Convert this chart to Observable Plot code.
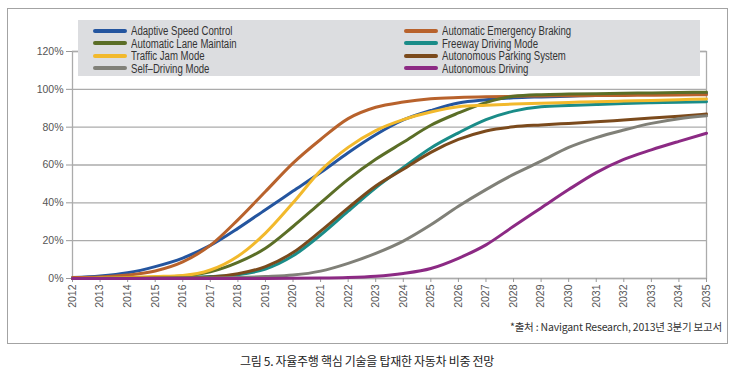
<!DOCTYPE html>
<html>
<head>
<meta charset="utf-8">
<script src="https://cdn.jsdelivr.net/npm/d3@7"></script>
<script src="https://cdn.jsdelivr.net/npm/@observablehq/plot@0.6"></script>
<style>
  html, body { margin: 0; padding: 0; background: #fff; }
  body { width: 734px; height: 374px; position: relative; overflow: hidden; }
  #box { position: absolute; left: 7px; top: 8px; width: 719px; height: 334px; border: 1px solid #a3a3a3; }
  #chart { position: absolute; left: 0; top: 0; }
  #legend { position: absolute; left: 78px; top: 20px; width: 622px; height: 56px; background: #dcdde0; }
  .item { position: absolute; height: 12px; line-height: 12px; font-family: "Liberation Sans", Arial, sans-serif; font-size: 12px; color: #333; white-space: nowrap; }
  .sw { display: inline-block; width: 34px; height: 4px; border-radius: 2px; vertical-align: middle; margin-right: 4px; position: relative; top: -1px; }
  .lbl { display: inline-block; transform: scaleX(0.8); transform-origin: 0 50%; }
  #caption { position: absolute; right: 12px; top: 319px; font-family: "Noto Sans CJK KR", sans-serif; font-size: 10.5px; color: #333; white-space: nowrap; letter-spacing: -0.2px; }
  #title { position: absolute; left: 0; width: 734px; top: 352px; text-align: center; font-family: "Noto Sans CJK KR", sans-serif; font-size: 12px; color: #222; letter-spacing: -0.3px; }
</style>
</head>
<body>
<div id="box"></div>
<div id="chart"></div>
<div id="legend"></div>
<div id="caption">*출처 : Navigant Research, 2013년 3분기 보고서</div>
<div id="title">그림 5. 자율주행 핵심 기술을 탑재한 자동차 비중 전망</div>
<script>
const years = [2012,2013,2014,2015,2016,2017,2018,2019,2020,2021,2022,2023,2024,2025,2026,2027,2028,2029,2030,2031,2032,2033,2034,2035];
const yTicks = [0,20,40,60,80,100,120];

const seriesNames = [
  "Adaptive Speed Control",
  "Automatic Emergency Braking",
  "Automatic Lane Maintain",
  "Freeway Driving Mode",
  "Traffic Jam Mode",
  "Autonomous Parking System",
  "Self–Driving Mode",
  "Autonomous Driving"
];
const seriesColors = ["#24559f","#b8622c","#5b6e27","#1a8c88","#f2b92c","#7b4a1c","#808078","#8c2a84"];

const adaptiveSpeedControl = [0.5,1.3,3,6.3,10.8,17.5,26.5,36.4,46.2,56,66.5,76,83.8,88.8,92.8,94.5,95.5,96,96.4,96.8,97.1,97.4,97.6,97.8];
const automaticEmergencyBraking = [0.5,0.8,1.8,4,8.8,17.5,31,46,61,73.5,84.5,90.5,93.3,95,95.7,96.1,96.3,96.5,96.6,96.7,96.8,96.9,97,97.2];
const automaticLaneMaintain = [0,0.1,0.3,0.7,1.3,3.5,8.5,16,27.5,40,52.4,63,72,81,87.5,93,96.3,97.2,97.5,97.7,97.9,98.1,98.3,98.5];
const freewayDrivingMode = [0,0,0.1,0.2,0.4,1,2,5,12,23,35.6,48,58.7,69,77,84,88.5,90.8,91.5,92,92.5,92.9,93.2,93.5];
const trafficJamMode = [0,0.2,0.5,1,1.6,4.5,11.8,24,40,57,69.3,78.2,84,88,90.8,91.6,92.2,92.7,93.1,93.5,93.8,94.1,94.5,94.9];
const autonomousParkingSystem = [0,0,0.1,0.2,0.4,0.8,2.5,6.3,13.7,25,37.3,48.9,57.8,66.7,73.5,78,80.2,81.2,82,82.8,83.8,84.8,85.8,86.9];
const selfDrivingMode = [0,0,0,0.1,0.2,0.3,0.5,1,1.8,3.9,8,13.3,19.8,28.4,38.2,47,55,62,69.3,74.5,78.5,82,84.5,86];
const autonomousDriving = [0,0,0,0,0,0,0,0,0.1,0.2,0.5,1.2,2.7,5.3,10.7,17.8,27.6,37.3,47,56,63,68,72.5,76.8];

const allValues = [adaptiveSpeedControl, automaticEmergencyBraking, automaticLaneMaintain, freewayDrivingMode, trafficJamMode, autonomousParkingSystem, selfDrivingMode, autonomousDriving];

const data = [];
seriesNames.forEach((name, i) => {
  years.forEach((yr, j) => data.push({series: name, year: yr, value: allValues[i][j]}));
});

const plot = Plot.plot({
  width: 734,
  height: 320,
  marginLeft: 72,
  marginRight: 28,
  marginTop: 51,
  marginBottom: 42,
  style: { fontFamily: "'Liberation Sans', Arial, sans-serif", fontSize: "10.5px", color: "#555", background: "transparent" },
  x: { domain: [2012, 2035], label: null },
  y: { domain: [0, 120], label: null },
  color: { domain: seriesNames, range: seriesColors },
  marks: [
    Plot.gridY(yTicks, { stroke: "#ababab", strokeOpacity: 1, strokeWidth: 1.3 }),
    Plot.frame({ stroke: "#ababab", strokeWidth: 1.3 }),
    Plot.axisY({ ticks: yTicks, tickFormat: d => d + "%", tickSize: 6, tickPadding: 3, stroke: "#999" }),
    Plot.axisX({ ticks: years, tickFormat: d => String(d), tickRotate: -90, tickSize: 4, tickPadding: 2, stroke: "#999" }),
    Plot.line(data, { x: "year", y: "value", z: "series", stroke: "series", strokeWidth: 3, curve: "monotone-x", strokeLinejoin: "round" })
  ]
});
document.getElementById("chart").appendChild(plot);

// legend (HTML; left column then right column)
const legend = document.getElementById("legend");
const leftCol = [0, 2, 4, 6];
const rightCol = [1, 3, 5, 7];
[leftCol, rightCol].forEach((col, c) => {
  col.forEach((idx, r) => {
    const it = document.createElement("div");
    it.className = "item";
    it.style.left = (c === 0 ? 15 : 326) + "px";
    it.style.top = (5 + r * 12.5) + "px";
    const sw = document.createElement("span");
    sw.className = "sw";
    sw.style.background = seriesColors[idx];
    it.appendChild(sw);
    const lb = document.createElement("span");
    lb.className = "lbl";
    lb.textContent = seriesNames[idx];
    it.appendChild(lb);
    legend.appendChild(it);
  });
});
</script>
</body>
</html>
